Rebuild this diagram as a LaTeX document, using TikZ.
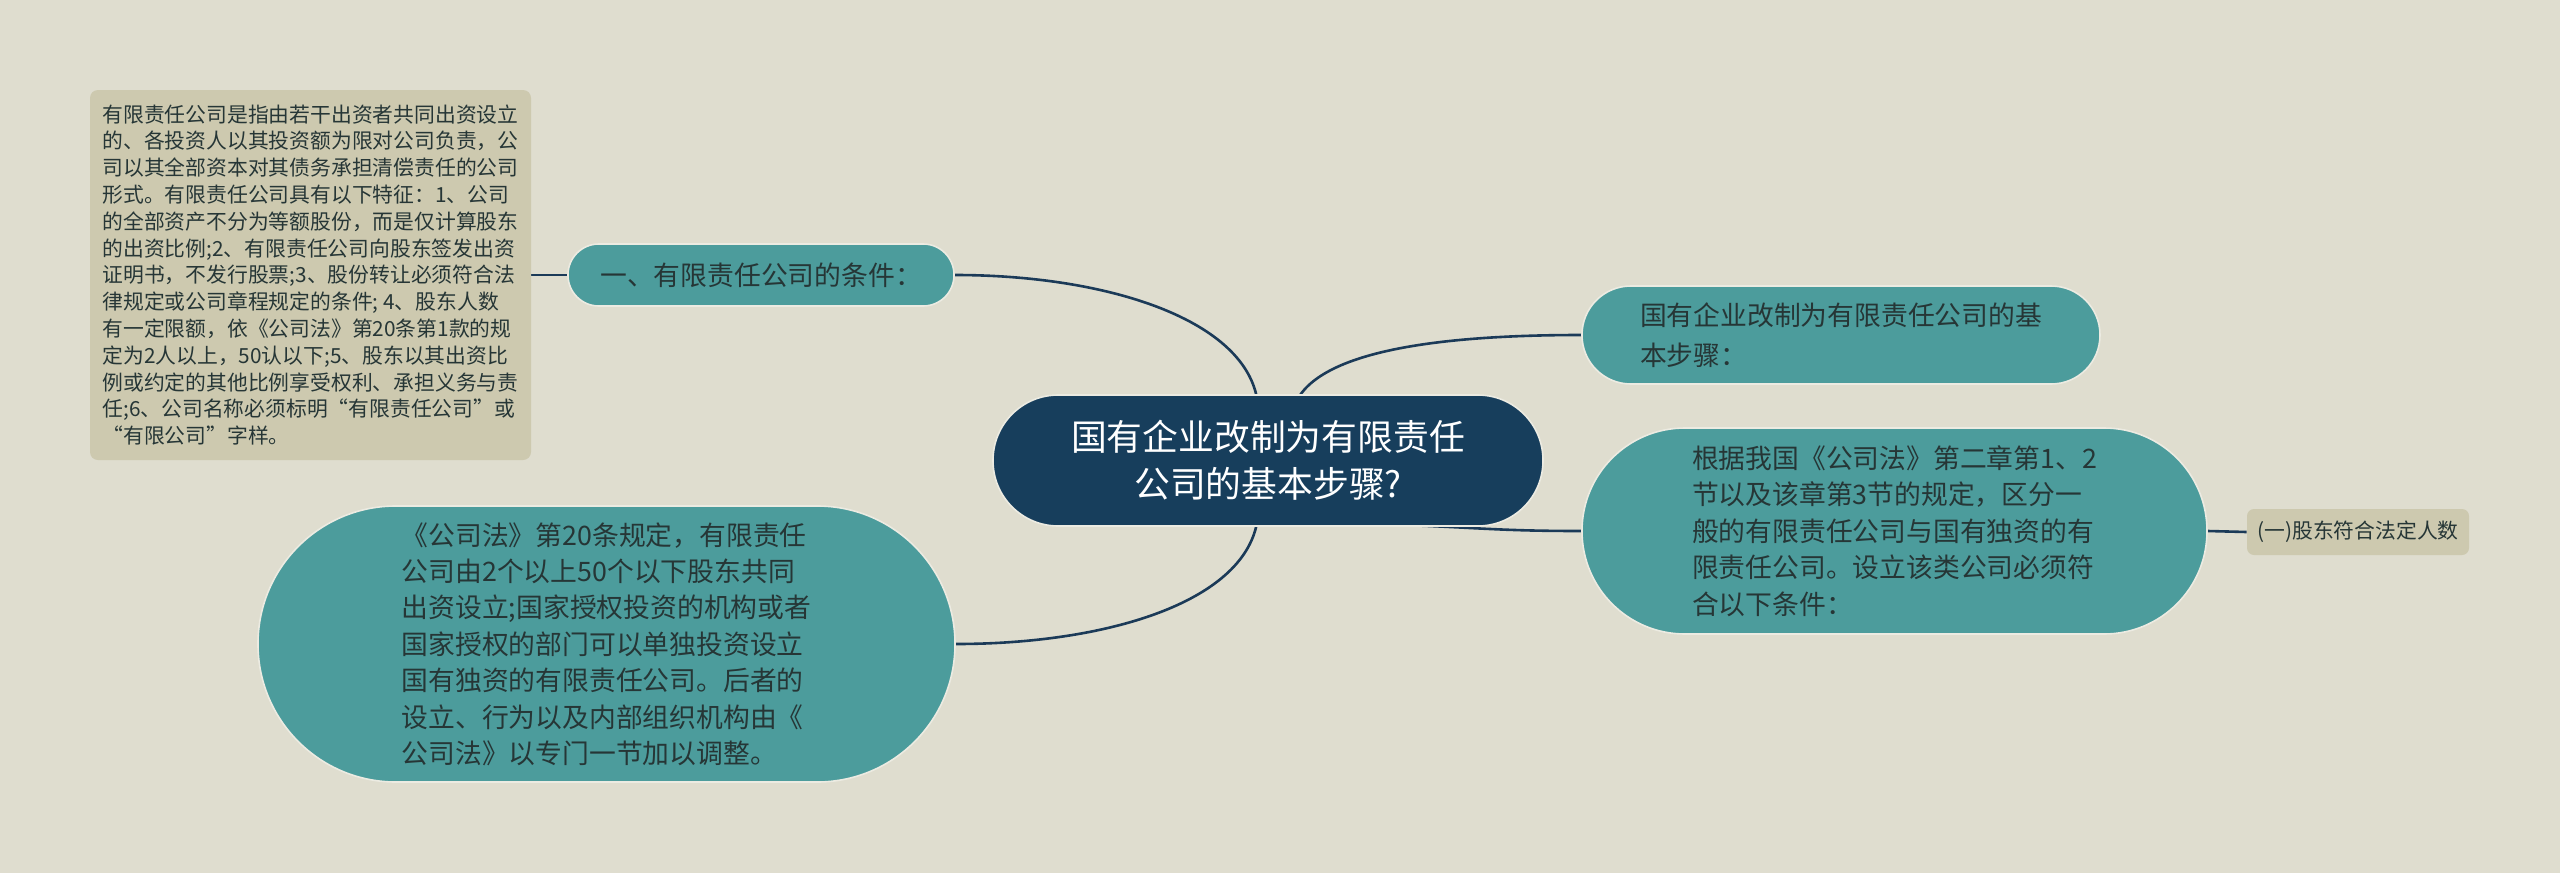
\documentclass[tikz,border=0pt]{standalone}
\usepackage{fontspec}
\setmainfont{Noto Sans CJK SC}
\usetikzlibrary{backgrounds}
\definecolor{bg}{HTML}{DFDDCF}
\definecolor{tealc}{HTML}{4C9C9C}
\definecolor{navy}{HTML}{173E5C}
\definecolor{beige}{HTML}{CDC9AF}
\definecolor{linec}{HTML}{1B3A58}
\definecolor{txt}{HTML}{263636}
\definecolor{rim}{HTML}{ECEBE2}
\begin{document}
\begin{tikzpicture}[x=0.5pt,y=-0.5pt,
  base/.style={inner sep=0pt, align=left, text=txt},
  tealbox/.style={base, fill=tealc, draw=rim, line width=0.8pt, font=\fontsize{13.4}{18.2}\selectfont},
  beigebox/.style={base, fill=beige, rounded corners=4pt},
  rootbox/.style={base, fill=navy, draw=rim, line width=0.8pt, text=white, align=center, font=\fontsize{17.9}{23.6}\selectfont},
  link/.style={draw=linec, line width=1.3pt}]
\useasboundingbox (0,0) rectangle (2560,873);

% nodes
\node[rootbox, minimum width=275pt, minimum height=65.5pt, rounded corners=32.6pt] (root) at (1268,460.5)
  {国有企业改制为有限责任\\公司的基本步骤?};

\node[tealbox, minimum width=193pt, minimum height=31pt, rounded corners=15.4pt] (n1) at (761,275)
  {一、有限责任公司的条件：};

\node[beigebox, minimum width=220.5pt, minimum height=185pt, font=\fontsize{10.4}{13.4}\selectfont] (n1a) at (310.5,275)
  {有限责任公司是指由若干出资者共同出资设立\\
   的、各投资人以其投资额为限对公司负责，公\\
   司以其全部资本对其债务承担清偿责任的公司\\
   形式。有限责任公司具有以下特征：1、公司\\
   的全部资产不分为等额股份，而是仅计算股东\\
   的出资比例;2、有限责任公司向股东签发出资\\
   证明书，不发行股票;3、股份转让必须符合法\\
   律规定或公司章程规定的条件; 4、股东人数\\
   有一定限额，依《公司法》第20条第1款的规\\
   定为2人以上，50认以下;5、股东以其出资比\\
   例或约定的其他比例享受权利、承担义务与责\\
   任;6、公司名称必须标明“有限责任公司”或\\
   “有限公司”字样。};

\node[tealbox, minimum width=348.5pt, minimum height=138pt, rounded corners=68.9pt] (n2) at (606.5,644)
  {《公司法》第20条规定，有限责任\\
   公司由2个以上50个以下股东共同\\
   出资设立;国家授权投资的机构或者\\
   国家授权的部门可以单独投资设立\\
   国有独资的有限责任公司。后者的\\
   设立、行为以及内部组织机构由《\\
   公司法》以专门一节加以调整。};

\node[tealbox, minimum width=259pt, minimum height=49pt, rounded corners=24.4pt, font=\fontsize{13.4}{19.7}\selectfont] (n3) at (1841,335)
  {国有企业改制为有限责任公司的基\\本步骤：};

\node[tealbox, minimum width=312.5pt, minimum height=103pt, rounded corners=51.4pt] (n4) at (1894.5,531)
  {根据我国《公司法》第二章第1、2\\
   节以及该章第3节的规定，区分一\\
   般的有限责任公司与国有独资的有\\
   限责任公司。设立该类公司必须符\\
   合以下条件：};

\node[beigebox, minimum width=111pt, minimum height=23pt, rounded corners=3.5pt, font=\fontsize{10.4}{13}\selectfont] (n4a) at (2358,532)
  {(一)股东符合法定人数};

% connectors, behind the nodes
\begin{pgfonlayer}{background}
\fill[bg] (0,0) rectangle (2560,873);
\coordinate (c1) at ([xshift=-5.5pt,yshift=-2pt]root.north);
\coordinate (c2) at ([xshift=15pt,yshift=-2pt]root.north);
\coordinate (c3) at ([xshift=66pt,yshift=1pt]root.south);
\coordinate (c4) at ([xshift=-5.5pt,yshift=2pt]root.south);
\draw[link] (n1a.east |- n1.west) -- (n1.west);
\draw[link] (n1.east) .. controls +(150,0) and +(-15,-80) .. (c1);
\draw[link] (c2) .. controls +(30,-50) and +(-130,0) .. (n3.west);
\draw[link] (c3) .. controls +(80,3) and +(-80,0) .. (n4.west);
\draw[link] (c4) .. controls +(-15,80) and +(150,0) .. (n2.east);
\draw[link] (n4.east) -- (n4a.west);
\end{pgfonlayer}
\end{tikzpicture}
\end{document}
